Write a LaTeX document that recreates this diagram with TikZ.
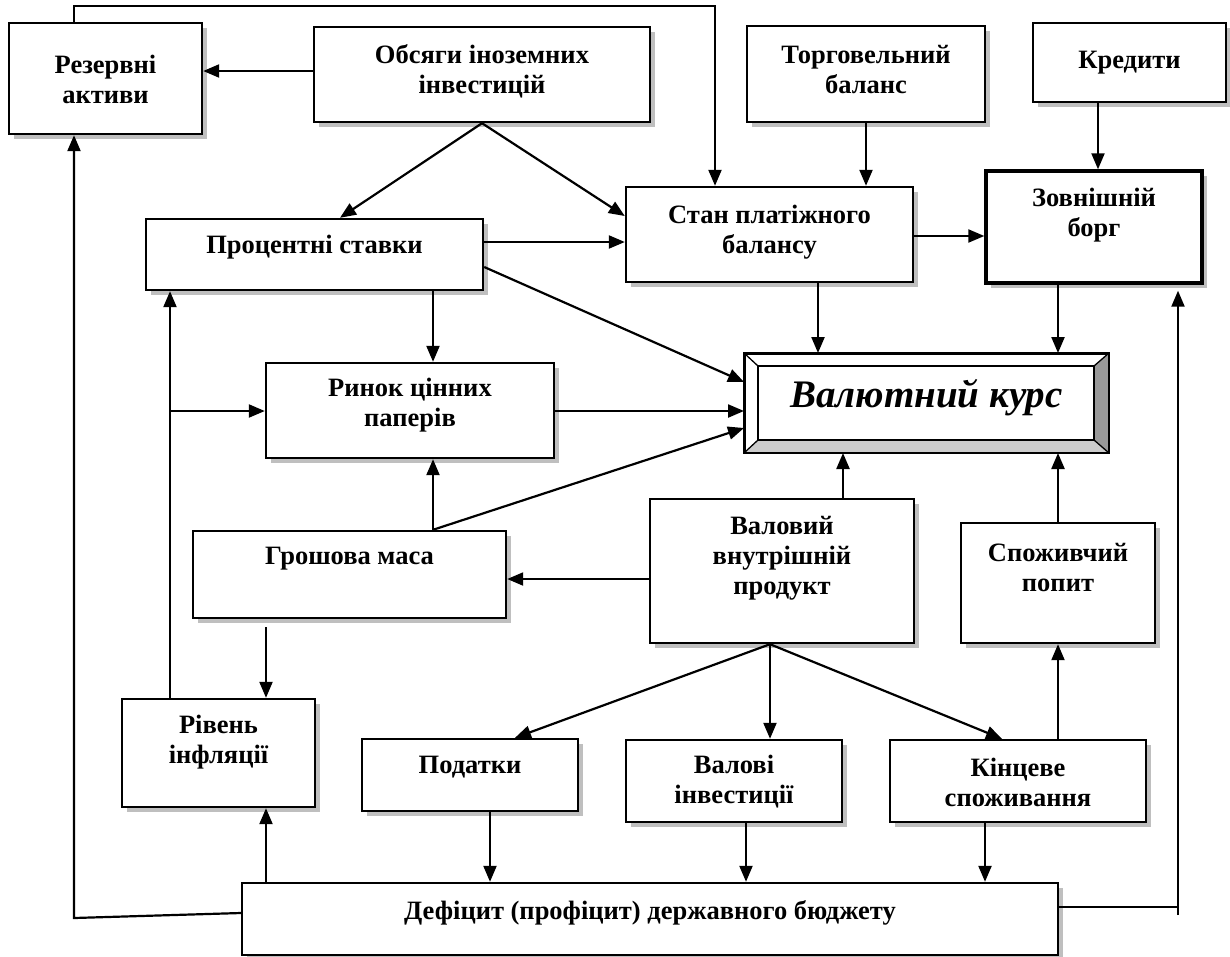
\documentclass[tikz,border=0pt]{standalone}
\usepackage{fontspec}
\setmainfont{Liberation Serif}
\usetikzlibrary{arrows.meta,shadows,calc}
\begin{document}
\begin{tikzpicture}[x=1pt,y=-1pt,
  box/.style={draw=black,line width=2.4pt,fill=white,inner sep=0pt,
    drop shadow={shadow xshift=5pt,shadow yshift=-5pt,fill=black!25,opacity=1}},
  txt/.style={align=center,inner sep=0pt,font=\fontsize{26.5}{30}\selectfont\bfseries},
  arr/.style={line width=2.2pt,-{Triangle[length=16pt,width=13pt]}},
  ln/.style={line width=2.2pt}]
\useasboundingbox (0,0) rectangle (1230,956);
\newcommand{\mybox}[8][]{%
  \node[box,#1,minimum width={#5pt-#3pt},minimum height={#6pt-#4pt}] (#2) at ({(#3+#5)/2},{(#4+#6)/2}) {};
  \node[txt] (#2-t) at ({(#3+#5)/2},#7) {#8};}
% boxes
\mybox{rez}{9}{23}{202}{134}{79}{Резервні\\активи}
\mybox{obs}{314}{27}{650}{122}{71}{Обсяги іноземних\\інвестицій}
\mybox{torg}{747}{26}{985}{122}{70}{Торговельний\\баланс}
\mybox{kred}{1033}{23}{1226}{102}{63}{Кредити}
\mybox[line width=3.4pt]{zovn}{986}{171}{1202}{283}{215}{Зовнішній\\борг}
\mybox{stan}{626}{187}{913}{282}{232}{Стан платіжного\\балансу}
\mybox{proc}{146}{219}{483}{290}{247}{Процентні ставки}
\mybox{rynok}{266}{363}{554}{458}{405}{Ринок цінних\\паперів}
\mybox{grosh}{193}{531}{506}{618}{559}{Грошова маса}
\mybox{vvp}{650}{499}{914}{643}{558}{Валовий\\внутрішній\\продукт}
\mybox{spoz}{961}{523}{1155}{643}{567}{Споживчий\\попит}
\mybox{riv}{122}{699}{315}{807}{742}{Рівень\\інфляції}
\mybox{podat}{362}{739}{578}{811}{767}{Податки}
\mybox{valinv}{626}{740}{842}{822}{782}{Валові\\інвестиції}
\mybox{kinc}{890}{740}{1146}{822}{782}{Кінцеве\\споживання}
\mybox{def}{242}{883}{1058}{955}{913}{Дефіцит (профіцит) державного бюджету}
% bevelled main box
\node[draw=black,line width=2pt,fill=white,inner sep=0pt,minimum width=363pt,minimum height=98pt] (val) at (926.5,403) {};
\coordinate (o1) at (val.north west);
\coordinate (o2) at (val.north east);
\coordinate (o3) at (val.south east);
\coordinate (o4) at (val.south west);
\coordinate (i1) at ($(o1)+(14,13)$);
\coordinate (i2) at ($(o2)+(-15,13)$);
\coordinate (i3) at ($(o3)+(-15,-13)$);
\coordinate (i4) at ($(o4)+(14,-13)$);
\fill[black!40] (o2) -- (o3) -- (i3) -- (i2) -- cycle;
\fill[black!20] (o3) -- (o4) -- (i4) -- (i3) -- cycle;
\draw[line width=1.8pt,line join=miter] (o1) -- (o2) -- (o3) -- (o4) -- cycle;
\draw[line width=1.8pt] (i1) -- (i2) -- (i3) -- (i4) -- cycle;
\draw[line width=1.3pt] (o1) -- (i1) (o2) -- (i2) (o3) -- (i3) (o4) -- (i4);
\node[inner sep=0pt,font=\fontsize{39}{44}\selectfont\bfseries\itshape] (val-t) at (926.5,398) {Валютний курс};
% helper coordinates
\foreach \v in {74,170,266,340,433,490,515,715,746,770,818,843,985,1002,1058,1098,1178}{\coordinate (cx\v) at (\v,0);}
\foreach \v in {6,71,216,236,242,267,290,382,411,428,579,627,907,913,915,918}{\coordinate (cy\v) at (0,\v);}
% connectors
\draw[arr] (obs.west |- cy71) -- (rez.east |- cy71);
\draw[arr] (rez.north -| cx74) -- (cx74 |- cy6) -- (cx715 |- cy6) -- (stan.north -| cx715);
\draw[arr] (obs.south) -- (proc.north -| cx340);
\draw[arr] (obs.south) -- (stan.west |- cy216);
\draw[arr] (torg.south) -- (torg.south |- stan.north);
\draw[arr] (kred.south -| cx1098) -- (zovn.north -| cx1098);
\draw[arr] (proc.east |- cy242) -- (stan.west |- cy242);
\draw[arr] (stan.east |- cy236) -- (zovn.west |- cy236);
\draw[arr] (stan.south -| cx818) -- (val.north -| cx818);
\draw[arr] (zovn.south -| cx1058) -- (val.north -| cx1058);
\draw[arr] (proc.east |- cy267) -- (val.west |- cy382);
\draw[arr] (proc.south -| cx433) -- (rynok.north -| cx433);
\draw[arr] (rynok.east |- cy411) -- (val.west |- cy411);
\draw[arr] (grosh.north -| cx433) -- (rynok.south -| cx433);
\draw[arr] (grosh.north -| cx433) -- (val.west |- cy428);
\draw[arr] (vvp.north -| cx843) -- (val.south -| cx843);
\draw[arr] (spoz.north -| cx1058) -- (val.south -| cx1058);
\draw[arr] (vvp.west |- cy579) -- (grosh.east |- cy579);
\draw[arr] (cx266 |- cy627) -- (riv.north -| cx266);
\draw[arr] (riv.north -| cx170) -- (proc.south -| cx170);
\draw[arr] (cx170 |- cy411) -- (rynok.west |- cy411);
\coordinate (vf) at (vvp.south -| cx770);
\draw[arr] (vf) -- (podat.north -| cx515);
\draw[arr] (vf) -- (valinv.north -| cx770);
\draw[arr] (vf) -- (kinc.north -| cx1002);
\draw[arr] (kinc.north -| cx1058) -- (spoz.south -| cx1058);
\draw[arr] (podat.south -| cx490) -- (def.north -| cx490);
\draw[arr] (valinv.south -| cx746) -- (def.north -| cx746);
\draw[arr] (kinc.south -| cx985) -- (def.north -| cx985);
\draw[arr] (def.north -| cx266) -- (riv.south -| cx266);
\draw[arr] (def.west |- cy913) -- (cx74 |- cy918) -- (rez.south -| cx74);
\draw[ln] (def.east |- cy907) -- (cx1178 |- cy907);
\draw[arr,shorten >=6pt] (cx1178 |- cy915) -- (zovn.south -| cx1178);
\end{tikzpicture}
\end{document}
